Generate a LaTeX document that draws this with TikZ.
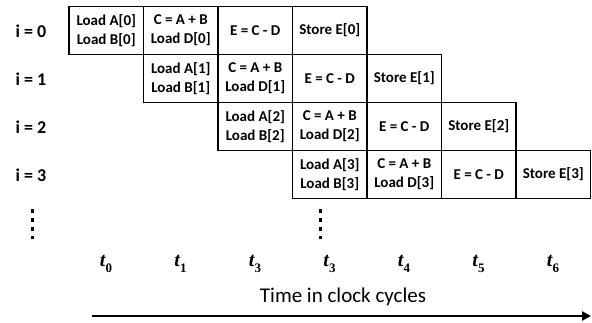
\documentclass[tikz,border=0pt]{standalone}
\usepackage{fontspec}
\setmainfont{Carlito}
\newfontfamily\tfont{Liberation Serif}
\newcommand{\tsym}[1]{{\itshape t}\raisebox{-0.28em}{\fontsize{13}{14}\selectfont #1}}
\usetikzlibrary{arrows.meta}
\begin{document}
\begin{tikzpicture}[x=1pt,y=-1pt,
 cell/.style={draw, line width=1.1pt, minimum width=74.5pt, minimum height=48pt, inner sep=0pt, outer sep=0pt, align=center, anchor=north west, font=\fontsize{15}{19}\selectfont\bfseries},
 rowlab/.style={font=\fontsize{18}{20}\selectfont\bfseries},
 tlab/.style={font=\fontsize{20}{22}\selectfont\tfont\bfseries},
 vdots/.style={line width=3.8pt, dash pattern=on 3.8pt off 5.2pt},
 timearrow/.style={line width=2.8pt, -{Triangle[length=9pt,width=9pt]}}]
\useasboundingbox (0,0) rectangle (592,322);
\foreach \r in {0,1,2,3}{
  \node[cell] (a\r) at ({69+74.5*\r},{6.5+48*\r}) {Load A[\r]\\Load B[\r]};
  \node[cell] (b\r) at (a\r.north east) {C = A + B\\Load D[\r]};
  \node[cell] (c\r) at (b\r.north east) {E = C - D};
  \node[cell] (d\r) at (c\r.north east) {Store E[\r]};
  \node[rowlab] (i\r) at (31,{31+48*\r}) {i = \r};
}
\coordinate (v1s) at (32.5,209);
\coordinate (v1e) at (32.5,239);
\draw[vdots] (v1s) -- (v1e);
\coordinate (v2s) at (320.5,209);
\coordinate (v2e) at (320.5,239);
\draw[vdots] (v2s) -- (v2e);
\foreach \k/\s in {0/0,1/1,2/3,3/3,4/4,5/5,6/6}{
  \node[tlab] (t\k) at ({106+74.5*\k},264) {\tsym{\s}};
}
\node[font=\fontsize{21}{24}\selectfont] (time) at (343,297) {Time in clock cycles};
\coordinate (arrS) at (92,316);
\coordinate (arrE) at (591,316);
\draw[timearrow] (arrS) -- (arrE);
\end{tikzpicture}
\end{document}
